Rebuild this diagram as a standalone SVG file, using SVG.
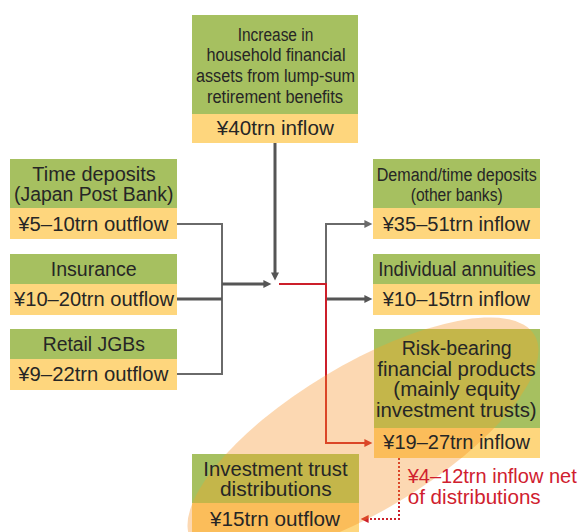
<svg xmlns="http://www.w3.org/2000/svg" width="579" height="532" viewBox="0 0 579 532">
<style>
.g{fill:#a6c060}
.y{fill:#fed67d}
.go{fill:#c4b64a}
.yo{fill:#fbbd5a}
text{font-family:"Liberation Sans",Arial,sans-serif;font-size:19.5px;fill:#262626;text-anchor:middle}
.n{font-size:18px}
.red{fill:#d0202e;text-anchor:start}
.c{fill:none;stroke-linejoin:miter}
.dk{stroke:#555;stroke-width:3}
.lt{stroke:#6a6a6a;stroke-width:2}
.rd{stroke:#cc1f2a;stroke-width:2}
</style>
<defs>
<marker id="ad" viewBox="0 0 10 10" refX="4.5" refY="5" markerWidth="9" markerHeight="8" markerUnits="userSpaceOnUse" orient="auto"><path d="M0,0 L10,5 L0,10 z" fill="#555"/></marker>
<marker id="al" viewBox="0 0 10 10" refX="4.5" refY="5" markerWidth="9" markerHeight="8" markerUnits="userSpaceOnUse" orient="auto"><path d="M0,0 L10,5 L0,10 z" fill="#6a6a6a"/></marker>
<marker id="ar" viewBox="0 0 10 10" refX="4.5" refY="5" markerWidth="9" markerHeight="8" markerUnits="userSpaceOnUse" orient="auto"><path d="M0,0 L10,5 L0,10 z" fill="#cc1f2a"/></marker>
<clipPath id="ell"><ellipse cx="0" cy="0" rx="200" ry="73" transform="translate(363 438) rotate(-31)"/></clipPath>
</defs>

<g id="connectors">
<path class="c dk" d="M275,143 V276" marker-end="url(#ad)"/>
<path class="c lt" d="M177,224 H222 V374 H177"/>
<path class="c dk" d="M177,299 H222"/>
<path class="c dk" d="M222,284 H267" marker-end="url(#ad)"/>
<path class="c lt" d="M326,284 V224 H368" marker-end="url(#al)"/>
<path class="c dk" d="M326,299 H368" marker-end="url(#ad)"/>
<path class="c rd" d="M279,284 H326 V443 H368" marker-end="url(#ar)"/>
<path class="c rd" d="M399,458 V519 H365" stroke-dasharray="2 2" marker-end="url(#ar)"/>
</g>

<g id="highlight">
<ellipse cx="0" cy="0" rx="200" ry="73" transform="translate(363 438) rotate(-31)" fill="#f69023" fill-opacity="0.35"/>
</g>

<g id="node-lumpsum">
<rect class="g" x="192" y="15" width="166" height="99"/>
<rect class="y" x="192" y="114" width="166" height="29"/>
<text class="n" x="275.5" y="40.7" textLength="75.6" lengthAdjust="spacingAndGlyphs">Increase in</text>
<text class="n" x="276" y="61.3" textLength="139" lengthAdjust="spacingAndGlyphs">household financial</text>
<text class="n" x="275.5" y="82" textLength="159" lengthAdjust="spacingAndGlyphs">assets from lump-sum</text>
<text class="n" x="275" y="102.6" textLength="136" lengthAdjust="spacingAndGlyphs">retirement benefits</text>
<text x="275.3" y="134.5" textLength="117" lengthAdjust="spacingAndGlyphs">¥40trn inflow</text>
</g>

<g id="node-time-deposits-jpb">
<rect class="g" x="10" y="159" width="167" height="49"/>
<rect class="y" x="10" y="208" width="167" height="31"/>
<text x="94" y="180.7" textLength="123.4" lengthAdjust="spacingAndGlyphs">Time deposits</text>
<text x="93.7" y="200.7" textLength="159.3" lengthAdjust="spacingAndGlyphs">(Japan Post Bank)</text>
<text x="93.3" y="230.7" textLength="150" lengthAdjust="spacingAndGlyphs">¥5–10trn outflow</text>
</g>

<g id="node-insurance">
<rect class="g" x="10" y="254" width="167" height="30"/>
<rect class="y" x="10" y="284" width="167" height="31"/>
<text x="93.7" y="275.7" textLength="86" lengthAdjust="spacingAndGlyphs">Insurance</text>
<text x="94" y="305.7" textLength="160" lengthAdjust="spacingAndGlyphs">¥10–20trn outflow</text>
</g>

<g id="node-retail-jgbs">
<rect class="g" x="10" y="329" width="167" height="30"/>
<rect class="y" x="10" y="359" width="167" height="31"/>
<text x="93.8" y="351.3" textLength="102.3" lengthAdjust="spacingAndGlyphs">Retail JGBs</text>
<text x="93.3" y="381.3" textLength="150" lengthAdjust="spacingAndGlyphs">¥9–22trn outflow</text>
</g>

<g id="node-demand-time-deposits">
<rect class="g" x="373" y="159" width="167" height="49"/>
<rect class="y" x="373" y="208" width="167" height="31"/>
<text class="n" x="456.7" y="180.7" textLength="160" lengthAdjust="spacingAndGlyphs">Demand/time deposits</text>
<text class="n" x="456.7" y="200.7" textLength="92" lengthAdjust="spacingAndGlyphs">(other banks)</text>
<text x="456.3" y="230.7" textLength="147.3" lengthAdjust="spacingAndGlyphs">¥35–51trn inflow</text>
</g>

<g id="node-individual-annuities">
<rect class="g" x="373" y="254" width="167" height="30"/>
<rect class="y" x="373" y="284" width="167" height="31"/>
<text x="457" y="275.7" textLength="157.7" lengthAdjust="spacingAndGlyphs">Individual annuities</text>
<text x="456.3" y="305.7" textLength="147.3" lengthAdjust="spacingAndGlyphs">¥10–15trn inflow</text>
</g>

<g id="node-risk-bearing">
<rect class="g" x="374" y="329" width="166" height="99"/>
<rect class="y" x="374" y="428" width="166" height="30"/>
<rect class="go" x="374" y="329" width="166" height="99" clip-path="url(#ell)"/>
<rect class="yo" x="374" y="428" width="166" height="30" clip-path="url(#ell)"/>
<text x="456.7" y="355" textLength="110" lengthAdjust="spacingAndGlyphs">Risk-bearing</text>
<text x="456.5" y="375.6" textLength="158.3" lengthAdjust="spacingAndGlyphs">financial products</text>
<text x="456.7" y="396.2" textLength="126.7" lengthAdjust="spacingAndGlyphs">(mainly equity</text>
<text x="456.3" y="416.8" textLength="160.7" lengthAdjust="spacingAndGlyphs">investment trusts)</text>
<text x="456.7" y="449" textLength="146.7" lengthAdjust="spacingAndGlyphs">¥19–27trn inflow</text>
</g>

<g id="node-investment-trust-distributions">
<rect class="g" x="192" y="454" width="167" height="49"/>
<rect class="y" x="192" y="503" width="167" height="29"/>
<rect class="go" x="192" y="454" width="167" height="49" clip-path="url(#ell)"/>
<rect class="yo" x="192" y="503" width="167" height="29" clip-path="url(#ell)"/>
<text x="275.5" y="475.7" textLength="144.3" lengthAdjust="spacingAndGlyphs">Investment trust</text>
<text x="275.8" y="496" textLength="111.7" lengthAdjust="spacingAndGlyphs">distributions</text>
<text x="275" y="525.7" textLength="130" lengthAdjust="spacingAndGlyphs">¥15trn outflow</text>
</g>

<g id="label-net-inflow">
<text class="red" x="407.7" y="483.3" textLength="169" lengthAdjust="spacingAndGlyphs">¥4–12trn inflow net</text>
<text class="red" x="407.7" y="504" textLength="133" lengthAdjust="spacingAndGlyphs">of distributions</text>
</g>
</svg>
